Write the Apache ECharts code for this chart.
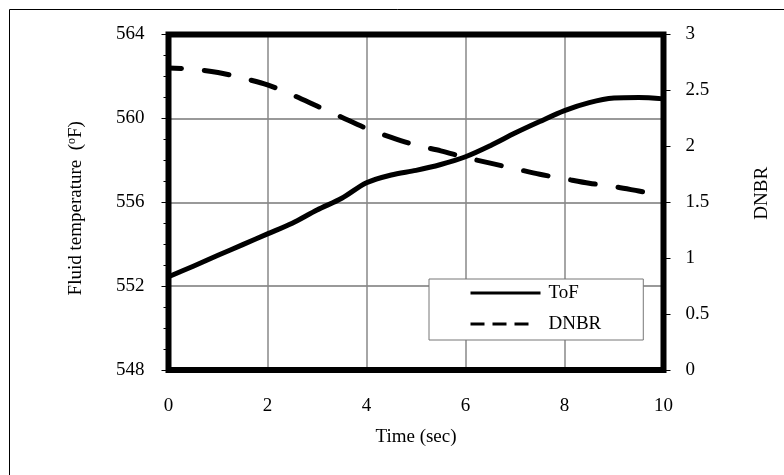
<!DOCTYPE html>
<html>
<head>
<meta charset="utf-8">
<script src="https://cdn.jsdelivr.net/npm/echarts@6/dist/echarts.min.js"></script>
<style>html,body{margin:0;padding:0;background:#fff;}#c{width:784px;height:475px;}</style>
</head>
<body>
<div id="c"></div>
<script>
// Data
const time = [0, 0.5, 1, 1.5, 2, 2.5, 3, 3.5, 4, 4.5, 5, 5.5, 6, 6.5, 7, 7.5, 8, 8.5, 9, 9.5, 10];
const tof = [552.45, 552.95, 553.47, 553.98, 554.49, 555.0, 555.63, 556.19, 556.93, 557.3, 557.52, 557.8, 558.17, 558.7, 559.3, 559.85, 560.37, 560.75, 560.97, 561.0, 560.93];
const dnbr = [2.70, 2.69, 2.66, 2.61, 2.55, 2.46, 2.36, 2.26, 2.16, 2.08, 2.01, 1.96, 1.90, 1.85, 1.80, 1.75, 1.71, 1.67, 1.64, 1.60, 1.56];
const xTicks = [0, 2, 4, 6, 8, 10];
const leftTicks = [548, 552, 556, 560, 564];
const rightTicks = [0, 0.5, 1, 1.5, 2, 2.5, 3];

const font = '"Liberation Serif", "Times New Roman", serif';
const fs = 19;
const chart = echarts.init(document.getElementById('c'), null, {renderer: 'canvas'});
chart.setOption({
  animation: false,
  backgroundColor: '#fff',
  graphic: [{
    type: 'rect', z: 0,
    shape: {x: 9.5, y: 9.5, width: 820, height: 520},
    style: {fill: 'none', stroke: '#000', lineWidth: 1}
  }],
  grid: {
    show: true, z: 1,
    left: 168.5, right: 120.5, top: 34.5, bottom: 105,
    borderColor: '#000', borderWidth: 6, backgroundColor: 'transparent'
  },
  legend: {
    orient: 'vertical',
    left: 429, top: 279,
    padding: [3, 42, 5, 40],
    itemGap: 9,
    itemWidth: 70, itemHeight: 14,
    backgroundColor: '#fff',
    borderColor: '#777', borderWidth: 1,
    textStyle: {fontFamily: font, fontSize: fs, color: '#000', lineHeight: 22, padding: [0, 0, 0, 3]},
    data: [
      {name: 'ToF', itemStyle: {opacity: 0}, lineStyle: {width: 3, color: '#000', type: 'solid', cap: 'butt', dashOffset: 0}},
      {name: 'DNBR', itemStyle: {opacity: 0}, lineStyle: {width: 3, color: '#000', type: [14, 8, 14, 8, 14, 30], dashOffset: 0, cap: 'butt'}}
    ]
  },
  xAxis: {
    type: 'value', min: xTicks[0], max: xTicks[xTicks.length - 1], interval: 2,
    name: 'Time (sec)', nameLocation: 'middle', nameGap: 58,
    nameTextStyle: {fontFamily: font, fontSize: fs, color: '#000'},
    axisLine: {show: false},
    axisTick: {show: false},
    axisLabel: {fontFamily: font, fontSize: fs, color: '#000', margin: 27},
    splitLine: {show: true, lineStyle: {color: '#888', width: 1.5}}
  },
  yAxis: [{
    type: 'value', min: leftTicks[0], max: leftTicks[leftTicks.length - 1], interval: 4,
    position: 'left',
    name: 'Fluid temperature  ({sup|o}F)', nameLocation: 'middle', nameGap: 82, nameRotate: 90,
    nameTextStyle: {fontFamily: font, fontSize: fs, color: '#000', padding: [0, 12, 0, 0],
      rich: {sup: {fontFamily: font, fontSize: 12, color: '#000', verticalAlign: 'top', padding: [0, 0, 9, 0]}}},
    axisLine: {show: false},
    axisTick: {show: true, length: 7, lineStyle: {color: '#000', width: 1}},
    minorTick: {show: true, splitNumber: 4, length: 5, lineStyle: {color: '#000', width: 1}},
    axisLabel: {fontFamily: font, fontSize: fs, color: '#000', margin: 24},
    splitLine: {show: true, lineStyle: {color: '#777', width: 1.5}}
  }, {
    type: 'value', min: rightTicks[0], max: rightTicks[rightTicks.length - 1], interval: 0.5,
    position: 'right',
    name: 'DNBR', nameLocation: 'middle', nameGap: 89, nameRotate: 90,
    nameTextStyle: {fontFamily: font, fontSize: fs, color: '#000', padding: [0, 0, 0, 18]},
    axisLine: {show: false},
    axisTick: {show: true, length: 7, lineStyle: {color: '#000', width: 1}},
    axisLabel: {fontFamily: font, fontSize: fs, color: '#000', margin: 22},
    splitLine: {show: false}
  }],
  series: [{
    name: 'ToF', type: 'line', yAxisIndex: 0, smooth: 0.3, symbol: 'none', z: 3,
    lineStyle: {color: '#000', width: 5, cap: 'round', join: 'round'},
    itemStyle: {color: '#000'},
    data: time.map((t, i) => [t, tof[i]])
  }, {
    name: 'DNBR', type: 'line', yAxisIndex: 1, smooth: 0.3, symbol: 'none', z: 3,
    lineStyle: {color: '#000', width: 5, type: [25, 23], dashOffset: 12, cap: 'round', join: 'round'},
    itemStyle: {color: '#000'},
    data: time.map((t, i) => [t, dnbr[i]])
  }]
});
</script>
</body>
</html>
